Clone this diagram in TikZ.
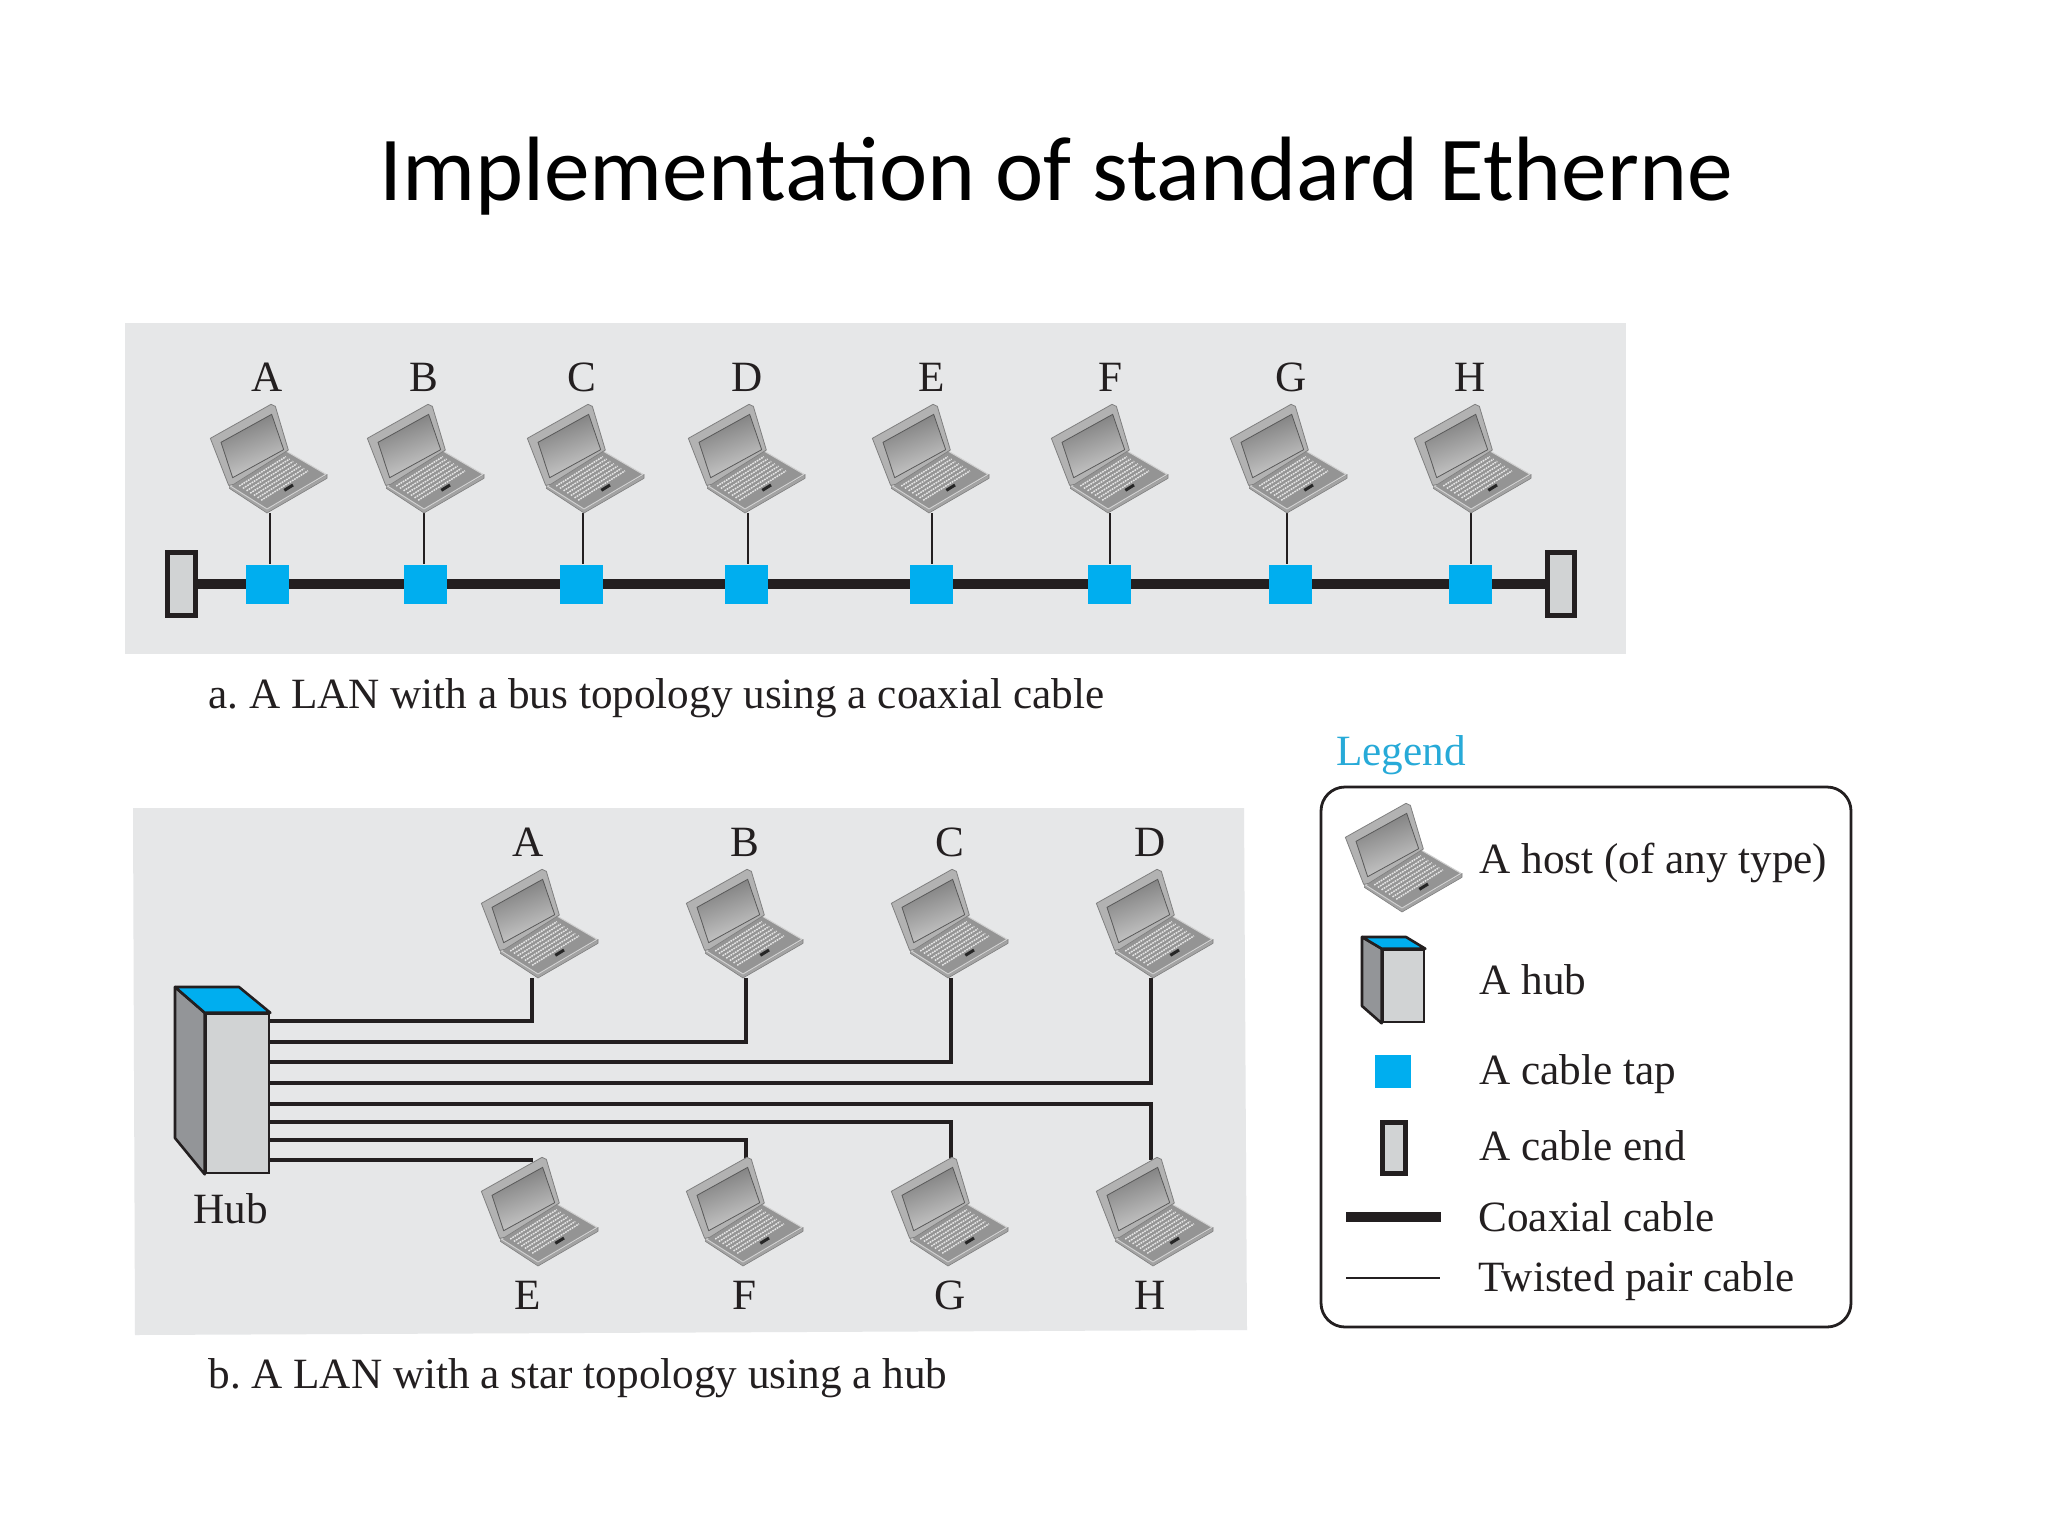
\documentclass[tikz,border=0pt]{standalone}
\usepackage{fontspec}
\setmainfont{Liberation Serif}
\newfontfamily\titlefont{Carlito}
\definecolor{panelgray}{HTML}{E6E7E8}
\definecolor{tapblue}{HTML}{00AEEF}
\definecolor{inkdark}{HTML}{231F20}
\definecolor{hubfront}{HTML}{D1D3D4}
\definecolor{hubside}{HTML}{939598}
\definecolor{legendblue}{HTML}{27AAD8}
\tikzset{
  panel/.style={fill=panelgray,draw=none},
  lbl/.style={inner sep=0pt,anchor=base,text=inkdark,font=\fontsize{21.6}{25}\selectfont},
  txt/.style={inner sep=0pt,anchor=base west,text=inkdark,font=\fontsize{21.6}{25}\selectfont},
  tapbox/.style={fill=tapblue,draw=none,inner sep=0pt,minimum width=21.5pt,minimum height=19.5pt},
  cableend/.style={fill=hubfront,draw=inkdark,line width=2.5pt,inner sep=0pt},
  coax/.style={draw=inkdark,line width=5.4pt},
  twisted/.style={draw=inkdark,line width=1.7pt},
  tapline/.style={draw=inkdark,line width=1.2pt},
  hubedge/.style={draw=inkdark,line width=1.3pt,line join=round},
  laptop/.pic={
    \begin{scope}[x=0.16667pt,y=-0.16667pt,line join=round]
      % base front
      \fill[draw=black!50,line width=.3pt,fill=black!36] (-113,-85) -- (-113,-74) -- (0,0) -- (180,-104) -- (180,-116) -- (0,-12) -- cycle;
      % base top
      \fill[draw=black!18,line width=.5pt,fill=black!42] (-110,-81) -- (57,-186) -- (177,-116) -- (0,-12) -- cycle;
      % keys
      \foreach \v in {.12,.22,.32,.42,.52,.62,.72}
        \draw[draw=black!10,line width=.75pt,dash pattern=on .85pt off .45pt] ({-96.6+110*\v},{-89.4+71*\v}) -- ({43.6+110*\v},{-177.6+71*\v});
      % pointing device
      \draw[draw=black!85,line width=1.5pt] (52,-68) -- (78,-84);
      % lid
      \fill[draw=black!50,line width=.4pt,fill=black!30] (-170,-224) -- (12,-326) -- (25,-320) -- (64,-189) -- (-100,-86) -- (-115,-83) -- cycle;
      % screen
      \shade[draw=black!65,line width=.4pt,top color=black!52,bottom color=black!20,shading angle=20] (-138,-212) -- (14,-296) -- (50,-190) -- (-103,-106) -- cycle;
    \end{scope}
  }
}
\begin{document}
\frenchspacing
\begin{tikzpicture}[x=0.5pt,y=-0.5pt]
\useasboundingbox[fill=white] (0,0) rectangle (2048,1536);

% title
\node[inner sep=0pt,anchor=base west,font=\titlefont\fontsize{45.7}{50}\selectfont] (title) at (379,200) {Implementation of standard Etherne};

% panel a
\fill[panel] (125,323) rectangle (1626,654);
\node[cableend,minimum width=14pt,minimum height=31.5pt] (endL) at (181.5,584) {};
\node[cableend,minimum width=13.5pt,minimum height=31.5pt] (endR) at (1560.5,584) {};
\draw[coax] (endL.east) -- (endR.west);
\foreach \n/\tip/\lab/\tapx/\drop in {A/267/267/267/270,B/424/424/425/424,C/584/582/581/583,D/745/747/746/748,E/929/932/931/932,F/1108/1110/1109/1110,G/1287/1291/1290/1287,H/1471/1470/1470/1471}{
  \node[tapbox] (tap\n) at (\tapx,584) {};
  \coordinate (drop\n) at (\drop,513);
  \draw[tapline] (drop\n) -- (drop\n |- tap\n.north);
  \pic (busl\n) at (\tip,513) {laptop};
  \node[lbl] (lab\n) at (\lab,391) {\n};
}
\node[txt] (capa) at (208,708) {a. A LAN with a bus topology using a coaxial cable};

% panel b
\fill[panel] (133,808) -- (1244,808) -- (1247,1330) -- (135,1335) -- cycle;
\node[fill=hubfront,draw=inkdark,line width=1.3pt,inner sep=0pt,minimum width=31.5pt,minimum height=79.5pt] (hubf) at (237.5,1093.5) {};
\coordinate (ht1) at (175,987);
\coordinate (ht2) at (239,987);
\coordinate (hs) at (175,1138);
\fill[hubside] (ht1) -- (hubf.north west) -- (hubf.south west) -- (hs) -- cycle;
\draw[hubedge] (ht1) -- (hubf.north west) -- (hubf.south west) -- (hs) -- cycle;
\filldraw[hubedge,fill=tapblue] (ht1) -- (ht2) -- (hubf.north east) -- (hubf.north west) -- cycle;
\node[lbl] (hublabel) at (231,1223) {Hub};
\foreach \i/\y in {1/1021,2/1042,3/1062,4/1083,5/1104,6/1122,7/1140,8/1160}
  \coordinate (s\i) at (269,\y);
\coordinate (upA) at (532,978);
\coordinate (upB) at (746,978);
\coordinate (upC) at (951,978);
\coordinate (upD) at (1151,978);
\coordinate (loE) at (533,1160);
\coordinate (loF) at (746,1160);
\coordinate (loG) at (951,1160);
\coordinate (loH) at (1151,1160);
\draw[twisted] (s1) -| (upA);
\draw[twisted] (s2) -| (upB);
\draw[twisted] (s3) -| (upC);
\draw[twisted] (s4) -| (upD);
\draw[twisted] (s5) -| (loH);
\draw[twisted] (s6) -| (loG);
\draw[twisted] (s7) -| (loF);
\draw[twisted] (s8) -- (loE);
\foreach \n/\tip/\lab/\m in {A/538/528/E,B/743/745/F,C/948/950/G,D/1153/1150/H}{
  \pic (starl\n) at (\tip,978) {laptop};
  \pic (starl\m) at (\tip,1266) {laptop};
  \node[lbl] (slab\n) at (\lab,856) {\n};
  \node[lbl] (slab\m) at (\lab,1309) {\m};
}
\node[txt] (capb) at (208,1388) {b. A LAN with a star topology using a hub};

% legend
\node[inner sep=0pt,anchor=base west,text=legendblue,font=\fontsize{21.6}{25}\selectfont] (legendtitle) at (1336,765) {Legend};
\draw[draw=inkdark,line width=1.4pt,rounded corners=12pt] (1321,787) rectangle (1851,1327);
\pic (leglap) at (1402,912) {laptop};
\node[txt] (t1) at (1479,873) {A host (of any type)};
\node[fill=hubfront,draw=inkdark,line width=1.3pt,inner sep=0pt,minimum width=20.5pt,minimum height=36pt] (lhub) at (1403.5,986) {};
\coordinate (lh1) at (1362,937);
\coordinate (lh2) at (1406,937);
\coordinate (lhs) at (1362,1006);
\filldraw[hubedge,fill=hubside] (lh1) -- (lhub.north west) -- (lhub.south west) -- (lhs) -- cycle;
\filldraw[hubedge,fill=tapblue] (lh1) -- (lh2) -- (lhub.north east) -- (lhub.north west) -- cycle;
\node[txt] (t2) at (1479,994) {A hub};
\node[tapbox,minimum width=18pt,minimum height=16.5pt] (ltap) at (1393,1071) {};
\node[txt] (t3) at (1479,1084) {A cable tap};
\node[cableend,line width=2.5pt,minimum width=11.5pt,minimum height=25.5pt] (lend) at (1393.5,1147.5) {};
\node[txt] (t4) at (1479,1160) {A cable end};
\coordinate (c1) at (1346,1217);
\coordinate (c2) at (1441,1217);
\draw[coax,line width=5pt] (c1) -- (c2);
\node[txt] (t5) at (1478,1231) {Coaxial cable};
\coordinate (d1) at (1346,1278);
\coordinate (d2) at (1440,1278);
\draw[tapline] (d1) -- (d2);
\node[txt] (t6) at (1478,1291) {Twisted pair cable};
\end{tikzpicture}
\end{document}
